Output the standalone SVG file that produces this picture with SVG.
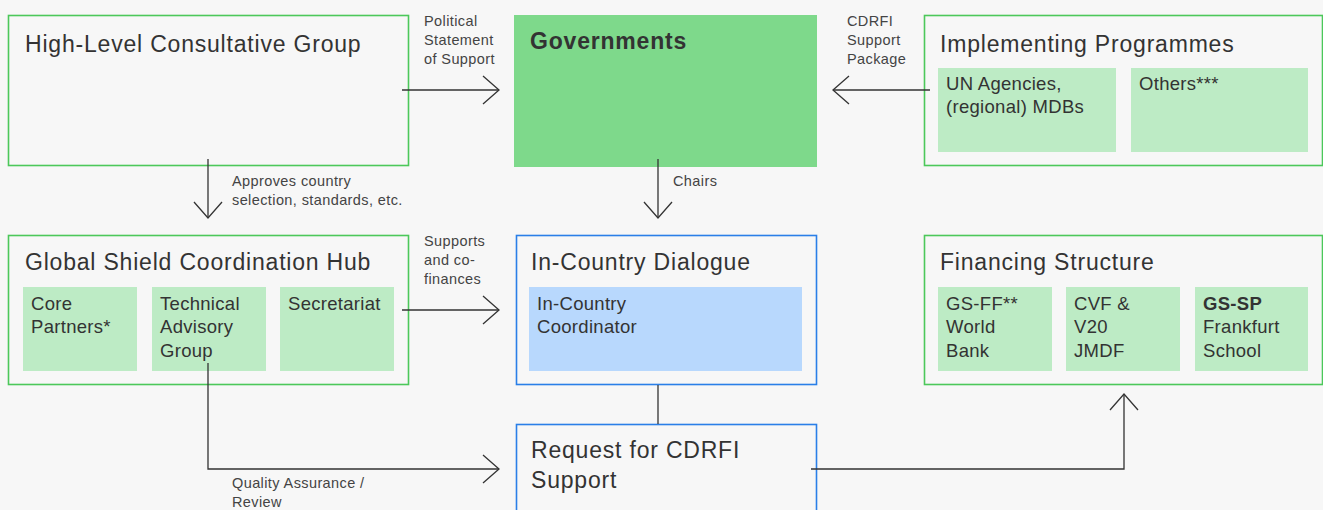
<svg xmlns="http://www.w3.org/2000/svg" width="1323" height="510" viewBox="0 0 1323 510">
<style>
  text { font-family: "Liberation Sans", Arial, sans-serif; fill: #333333; }
  .title { font-size: 23px; letter-spacing: 0.8px; }
  .bold { font-weight: bold; }
  .sub { font-size: 18.5px; letter-spacing: 0.3px; }
  .lbl { font-size: 14.5px; fill: #444444; letter-spacing: 0.4px; }
  .gbox { fill: none; stroke: #4cc85a; stroke-width: 1.6; }
  .bbox { fill: none; stroke: #2a7fe8; stroke-width: 1.6; }
  .gfill { fill: #bdebc5; }
  .bfill { fill: #b8d8fd; }
  .conn { fill: none; stroke: #333333; stroke-width: 1.3; }
</style>
<defs>
  <marker id="arr" viewBox="-17 -15 19 30" markerWidth="19" markerHeight="30" refX="0" refY="0" orient="auto" markerUnits="userSpaceOnUse">
    <path d="M-16,-14 L0,0 L-16,14" fill="none" stroke="#333333" stroke-width="1.3"/>
  </marker>
</defs>
<rect x="0" y="0" width="1323" height="510" fill="#f7f7f7"/>

<g id="hlcg">
  <rect class="gbox" x="8.5" y="15.5" width="400" height="150"/>
  <text class="title" x="25" y="52">High-Level Consultative Group</text>
</g>

<g id="governments">
  <rect x="514" y="15" width="303" height="152" fill="#7ed98b"/>
  <text class="title bold" x="530" y="49">Governments</text>
</g>

<g id="implementing">
  <rect class="gbox" x="924.5" y="15.5" width="398" height="150"/>
  <text class="title" x="940" y="52">Implementing Programmes</text>
  <rect class="gfill" x="938" y="68" width="178" height="84"/>
  <text class="sub" x="946" y="90">UN Agencies,</text>
  <text class="sub" x="946" y="113">(regional) MDBs</text>
  <rect class="gfill" x="1131" y="68" width="177" height="84"/>
  <text class="sub" x="1139" y="90">Others***</text>
</g>

<g id="gsch">
  <rect class="gbox" x="8.5" y="235.5" width="400" height="149"/>
  <text class="title" x="25" y="270">Global Shield Coordination Hub</text>
  <rect class="gfill" x="23" y="287" width="114" height="84"/>
  <text class="sub" x="31" y="310">Core</text>
  <text class="sub" x="31" y="333">Partners*</text>
  <rect class="gfill" x="152" y="287" width="114" height="84"/>
  <text class="sub" x="160" y="310">Technical</text>
  <text class="sub" x="160" y="333">Advisory</text>
  <text class="sub" x="160" y="357">Group</text>
  <rect class="gfill" x="280" y="287" width="114" height="84"/>
  <text class="sub" x="288" y="310">Secretariat</text>
</g>

<g id="icd">
  <rect class="bbox" x="516.5" y="235.5" width="300" height="149"/>
  <text class="title" x="531" y="270">In-Country Dialogue</text>
  <rect class="bfill" x="529" y="287" width="273" height="84"/>
  <text class="sub" x="537" y="310">In-Country</text>
  <text class="sub" x="537" y="333">Coordinator</text>
</g>

<g id="request">
  <rect class="bbox" x="516.5" y="424.5" width="300" height="100"/>
  <text class="title" x="531" y="458">Request for CDRFI</text>
  <text class="title" x="531" y="488">Support</text>
</g>

<g id="financing">
  <rect class="gbox" x="924.5" y="235.5" width="398" height="149"/>
  <text class="title" x="940" y="270">Financing Structure</text>
  <rect class="gfill" x="938" y="287" width="114" height="84"/>
  <text class="sub" x="946" y="310">GS-FF**</text>
  <text class="sub" x="946" y="333">World</text>
  <text class="sub" x="946" y="357">Bank</text>
  <rect class="gfill" x="1066" y="287" width="114" height="84"/>
  <text class="sub" x="1074" y="310">CVF &amp;</text>
  <text class="sub" x="1074" y="333">V20</text>
  <text class="sub" x="1074" y="357">JMDF</text>
  <rect class="gfill" x="1195" y="287" width="113" height="84"/>
  <text class="sub bold" x="1203" y="310">GS-SP</text>
  <text class="sub" x="1203" y="333">Frankfurt</text>
  <text class="sub" x="1203" y="357">School</text>
</g>

<g id="connectors">
  <path class="conn" d="M402,90 H499" marker-end="url(#arr)"/>
  <text class="lbl" x="424" y="26">Political</text>
  <text class="lbl" x="424" y="45">Statement</text>
  <text class="lbl" x="424" y="64">of Support</text>

  <path class="conn" d="M930,90 H833" marker-end="url(#arr)"/>
  <text class="lbl" x="847" y="26">CDRFI</text>
  <text class="lbl" x="847" y="45">Support</text>
  <text class="lbl" x="847" y="64">Package</text>

  <path class="conn" d="M208,159 V218" marker-end="url(#arr)"/>
  <text class="lbl" x="232" y="186">Approves country</text>
  <text class="lbl" x="232" y="205">selection, standards, etc.</text>

  <path class="conn" d="M658,159 V218" marker-end="url(#arr)"/>
  <text class="lbl" x="673" y="186">Chairs</text>

  <path class="conn" d="M402,310 H499" marker-end="url(#arr)"/>
  <text class="lbl" x="424" y="246">Supports</text>
  <text class="lbl" x="424" y="265">and co-</text>
  <text class="lbl" x="424" y="284">finances</text>

  <path class="conn" d="M208,363 V469 H499" marker-end="url(#arr)"/>
  <text class="lbl" x="232" y="488">Quality Assurance /</text>
  <text class="lbl" x="232" y="507">Review</text>

  <path class="conn" d="M658,385 V424"/>

  <path class="conn" d="M811,469 H1124 V394" marker-end="url(#arr)"/>
</g>
</svg>
